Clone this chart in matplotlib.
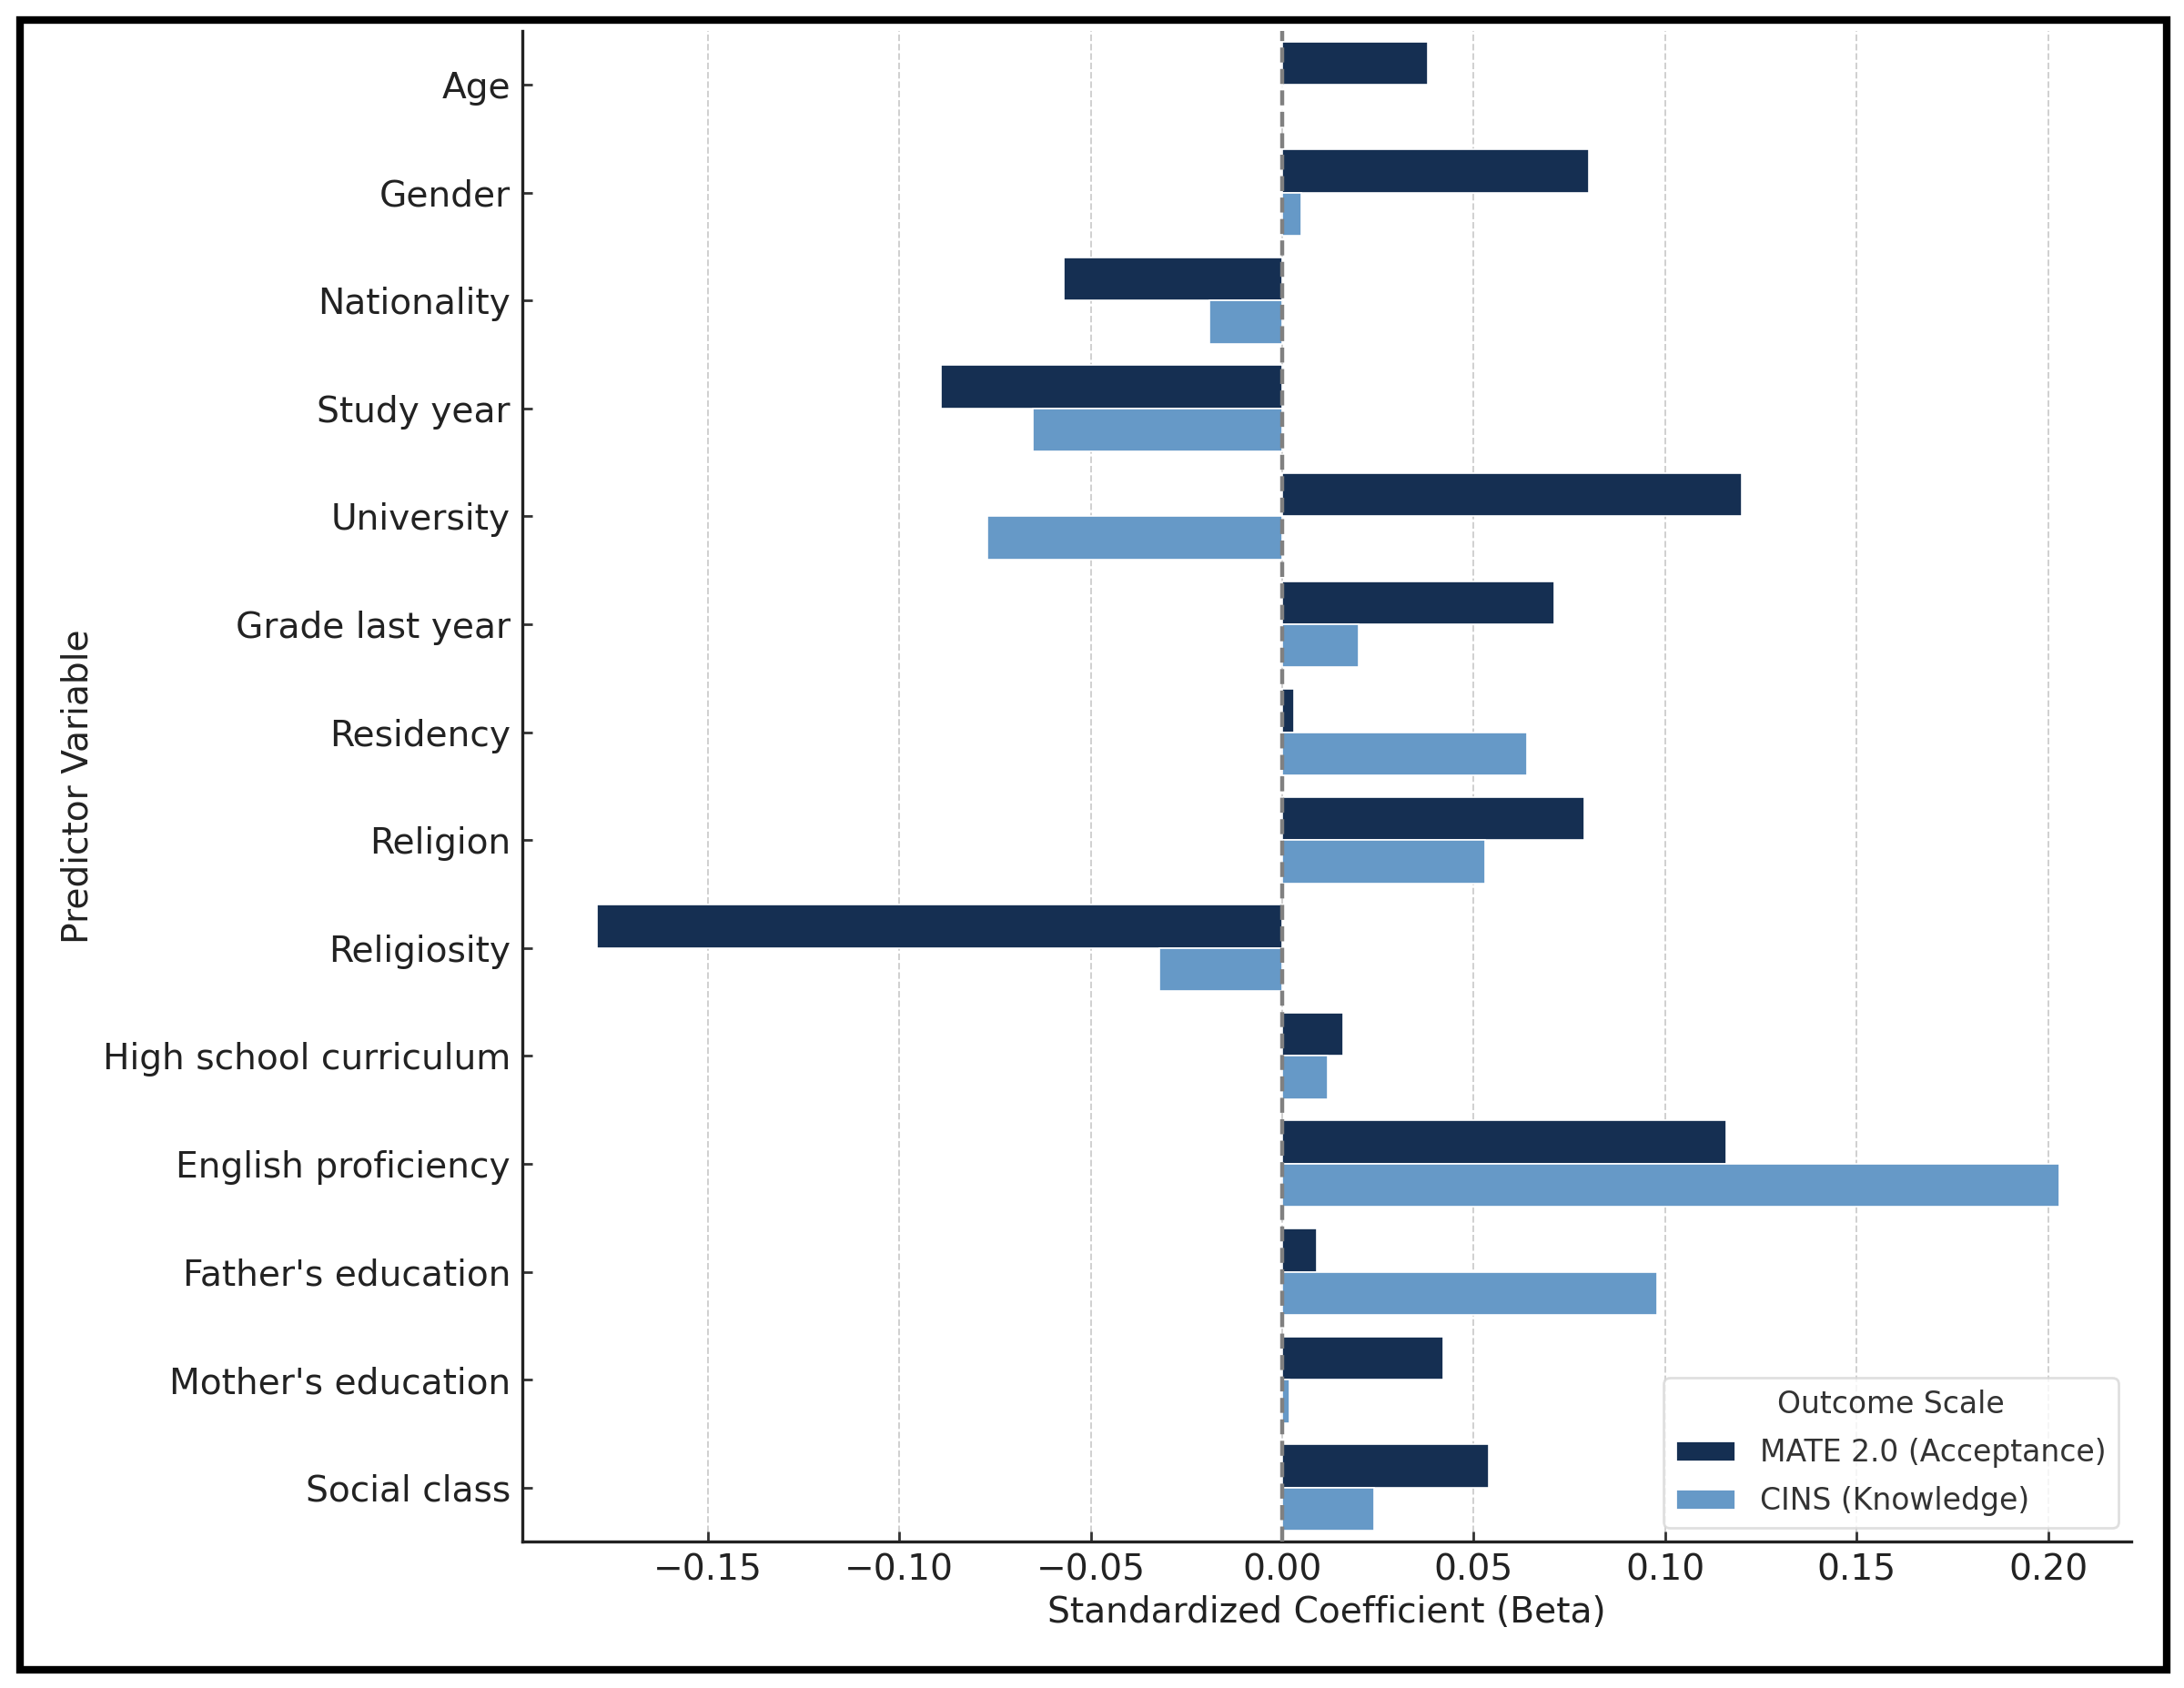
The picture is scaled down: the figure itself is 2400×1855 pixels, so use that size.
import numpy as np
import matplotlib
matplotlib.use("Agg")
import matplotlib.pyplot as plt
from matplotlib.patches import Rectangle, Patch

predictors = ["Age", "Gender", "Nationality", "Study year", "University",
              "Grade last year", "Residency", "Religion", "Religiosity",
              "High school curriculum", "English proficiency",
              "Father's education", "Mother's education", "Social class"]
mate_beta = [0.038, 0.080, -0.057, -0.089, 0.120, 0.071, 0.003, 0.079,
             -0.179, 0.016, 0.116, 0.009, 0.042, 0.054]
cins_beta = [0.0, 0.005, -0.019, -0.065, -0.077, 0.020, 0.064, 0.053,
             -0.032, 0.012, 0.203, 0.098, 0.002, 0.024]
series_names = ["MATE 2.0 (Acceptance)", "CINS (Knowledge)"]
series_colors = ["#152f52", "#6699c7"]

plt.rcParams['font.family'] = ['DejaVu Sans']
fs = 14.1

fig = plt.figure(figsize=(12, 9.275), dpi=200)
ax = fig.add_axes([0.239, 0.0868, 0.737, 0.895])

y = np.arange(len(predictors))
h = 0.4
ax.barh(y - h / 2, mate_beta, height=h, color=series_colors[0],
        edgecolor="white", linewidth=0.6, label=series_names[0], zorder=2)
ax.barh(y + h / 2, cins_beta, height=h, color=series_colors[1],
        edgecolor="white", linewidth=0.6, label=series_names[1], zorder=2)

ax.axvline(0, color="grey", linestyle="--", linewidth=1.6, zorder=3)

ax.set_yticks(y)
ax.set_yticklabels(predictors, fontsize=fs, color="#222222")
ax.set_ylim(len(predictors) - 0.5, -0.5)
ax.set_xlim(-0.1985, 0.2218)
ax.set_xticks([-0.15, -0.10, -0.05, 0.00, 0.05, 0.10, 0.15, 0.20])
ax.set_xticklabels(["\u22120.15", "\u22120.10", "\u22120.05", "0.00",
                    "0.05", "0.10", "0.15", "0.20"], fontsize=fs, color="#222222")
ax.tick_params(axis="both", direction="in", length=4, width=1, color="#333333")
ax.tick_params(axis="y", pad=4.5)
ax.tick_params(axis="x", pad=4.5)

ax.grid(axis="x", linestyle="--", color="#d0d0d0", linewidth=0.7, zorder=0)
ax.set_axisbelow(True)

for s in ["top", "right"]:
    ax.spines[s].set_visible(False)
for s in ["left", "bottom"]:
    ax.spines[s].set_color("#222222")
    ax.spines[s].set_linewidth(1.2)

ax.set_xlabel("Standardized Coefficient (Beta)", fontsize=fs, color="#222222", labelpad=3)
ax.set_ylabel("Predictor Variable", fontsize=fs, color="#222222", labelpad=3)

handles = [Patch(facecolor=c, edgecolor="white") for c in series_colors]
leg = ax.legend(handles, series_names, title="Outcome Scale", loc="lower right",
                fontsize=11.9, title_fontsize=11.9, frameon=True,
                borderaxespad=0.45, labelspacing=0.6, handlelength=2.0,
                handletextpad=0.8)
leg.get_frame().set_edgecolor("#d8d8d8")
for t in leg.get_texts():
    t.set_color("#333333")
leg.get_title().set_color("#333333")

fig.patches.append(Rectangle((0.009, 0.011), 0.983, 0.977, transform=fig.transFigure,
                             fill=False, edgecolor="black", linewidth=3.0))

fig.savefig("out.png", dpi=200, facecolor="white")
